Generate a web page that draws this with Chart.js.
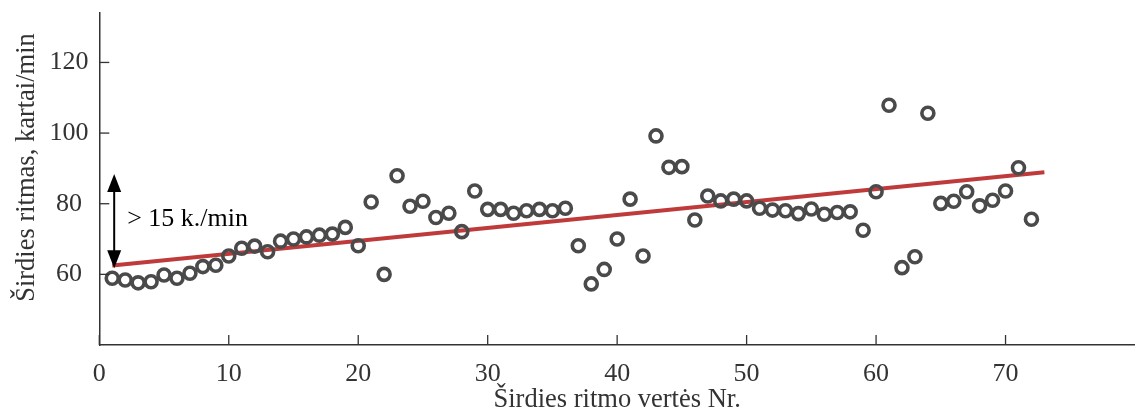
<!DOCTYPE html>
<html>
<head>
<meta charset="utf-8">
<script src="https://cdn.jsdelivr.net/npm/chart.js@4.4.1/dist/chart.umd.min.js"></script>
<style>
html,body{margin:0;padding:0;background:#fff;overflow:hidden;}
#wrap{width:1135px;height:416px;position:relative;}
</style>
</head>
<body>
<div id="wrap"><canvas id="c"></canvas></div>
<script>
// ---- data ----
const measurementNo = [1,2,3,4,5,6,7,8,9,10,11,12,13,14,15,16,17,18,19,20,21,22,23,24,25,26,27,28,29,30,31,32,33,34,35,36,37,38,39,40,41,42,43,44,45,46,47,48,49,50,51,52,53,54,55,56,57,58,59,60,61,62,63,64,65,66,67,68,69,70,71,72];
const heartRate = [58.9,58.4,57.6,57.9,59.8,58.9,60.3,62.2,62.6,65.2,67.4,68.0,66.4,69.4,70.0,70.6,71.1,71.4,73.3,68.1,
  80.5,60.0,87.9,79.3,80.7,76.1,77.3,72.1,83.6,78.4,78.4,77.3,78.0,78.4,78.0,78.7,68.1,57.3,61.4,70.0,
  81.3,65.2,99.2,90.3,90.5,75.4,82.2,80.8,81.3,80.8,78.7,78.2,78.0,77.2,78.5,77.0,77.5,77.7,72.5,83.4,
  107.9,61.9,65.0,105.6,80.1,80.7,83.4,79.4,81.0,83.6,90.2,75.6];
const trendX = [1, 73];
const trendY = [62.5, 88.9];
const xTicks = [0,10,20,30,40,50,60,70];
const yTicks = [60,80,100,120];
const xTitle = 'Širdies ritmo vertės Nr.';
const yTitle = 'Širdies ritmas, kartai/min';
const arrowX = 1.15, arrowFrom = 61.7, arrowTo = 88.4;
const noteText = '> 15 k./min';
const noteX = 2.15, noteY = 73.8;

const FONT = "'Liberation Serif', 'Times New Roman', serif";
const AXIS = '#333333';

const pts = measurementNo.map((x,i)=>({x:x, y:heartRate[i]}));
const trend = trendX.map((x,i)=>({x:x, y:trendY[i]}));

const extras = {
  id:'extras',
  afterDraw(chart){
    const ctx = chart.ctx, xs = chart.scales.x, ys = chart.scales.y, a = chart.chartArea;
    ctx.save();
    // inward tick marks
    ctx.strokeStyle = AXIS; ctx.lineWidth = 1.3;
    xTicks.forEach(v=>{ const p = xs.getPixelForValue(v); ctx.beginPath(); ctx.moveTo(p, a.bottom); ctx.lineTo(p, a.bottom-10); ctx.stroke(); });
    yTicks.forEach(v=>{ const p = ys.getPixelForValue(v); ctx.beginPath(); ctx.moveTo(a.left, p); ctx.lineTo(a.left+10, p); ctx.stroke(); });
    // y tick labels (centred column, as in the reference)
    ctx.fillStyle = AXIS;
    ctx.font = "26px " + FONT;
    ctx.textAlign = 'center'; ctx.textBaseline = 'middle';
    yTicks.forEach(v=>{ ctx.fillText(String(v), 69, ys.getPixelForValue(v)); });
    // y title
    ctx.font = "26.5px " + FONT;
    ctx.translate(34, 167.5);
    ctx.rotate(-Math.PI/2);
    ctx.textAlign = 'center'; ctx.textBaseline = 'alphabetic';
    ctx.fillText(yTitle, 0, 0);
    ctx.restore();
    // double-headed arrow
    ctx.save();
    const ax = xs.getPixelForValue(arrowX), y1 = ys.getPixelForValue(arrowFrom), y2 = ys.getPixelForValue(arrowTo);
    const hw = 7, hh = 18;
    ctx.strokeStyle = '#000'; ctx.fillStyle = '#000'; ctx.lineWidth = 2;
    ctx.beginPath(); ctx.moveTo(ax, y2 + hh - 2); ctx.lineTo(ax, y1 - hh + 2); ctx.stroke();
    ctx.beginPath(); ctx.moveTo(ax, y2); ctx.lineTo(ax - hw, y2 + hh); ctx.lineTo(ax + hw, y2 + hh); ctx.closePath(); ctx.fill();
    ctx.beginPath(); ctx.moveTo(ax, y1); ctx.lineTo(ax - hw, y1 - hh); ctx.lineTo(ax + hw, y1 - hh); ctx.closePath(); ctx.fill();
    // note
    ctx.font = "26px " + FONT; ctx.textAlign = 'left'; ctx.textBaseline = 'alphabetic';
    ctx.fillText(noteText, xs.getPixelForValue(noteX), ys.getPixelForValue(noteY));
    ctx.restore();
  }
};

new Chart(document.getElementById('c'), {
  type: 'scatter',
  data: {
    datasets: [
      { type:'line', data: trend, borderColor:'#bf3b3b', borderWidth:4, pointRadius:0, fill:false, order:2, tension:0 },
      { data: pts, pointStyle:'circle', pointRadius:6, pointBorderWidth:3.6, borderWidth:3.6, borderColor:'#4a4a4a', backgroundColor:'rgba(0,0,0,0)', pointHoverRadius:6, order:1 }
    ]
  },
  options: {
    responsive:true, maintainAspectRatio:false, animation:false,
    layout:{ autoPadding:false, padding:{ top:13, right:0, left:0, bottom:0 } },
    plugins:{ legend:{display:false}, tooltip:{enabled:false} },
    scales:{
      x:{
        type:'linear', min:0, max:80,
        afterBuildTicks(s){ s.ticks = xTicks.map(v=>({value:v})); },
        afterFit(s){ s.height = 71; s.paddingLeft = 0; s.paddingRight = 0; },
        grid:{ display:false },
        border:{ display:true, color:AXIS, width:1.5 },
        ticks:{ color:AXIS, font:{ family:FONT, size:26 }, padding:6, maxRotation:0, autoSkip:false },
        title:{ display:true, text:xTitle, color:AXIS, font:{ family:FONT, size:26.5 }, padding:{top:0,bottom:0} }
      },
      y:{
        type:'linear', min:40, max:134,
        afterBuildTicks(s){ s.ticks = yTicks.map(v=>({value:v})); },
        afterFit(s){ s.width = 99.3; s.paddingTop = 0; s.paddingBottom = 0; },
        grid:{ display:false },
        border:{ display:true, color:AXIS, width:1.5 },
        ticks:{ display:false }
      }
    }
  },
  plugins:[extras]
});
</script>
</body>
</html>
